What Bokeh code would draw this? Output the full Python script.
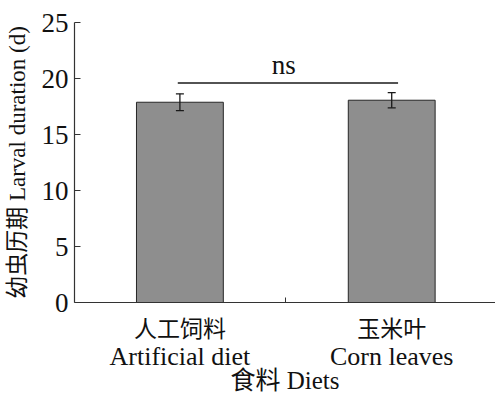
from bokeh.plotting import figure
from bokeh.models import Range1d, FixedTicker, ColumnDataSource, Whisker, TeeHead, LinearAxis
from bokeh.core.properties import value
from bokeh.embed import file_html
from bokeh.resources import INLINE

categories_zh = ["人工饲料", "玉米叶"]
categories_en = ["Artificial diet", "Corn leaves"]
positions = [1, 2]
means = [17.88, 18.06]
errors = [0.75, 0.68]
y_ticks = [0, 5, 10, 15, 20, 25]
sig_x = [0.99, 2.03]
sig_y = 19.6
sig_label = "ns"

FONT = "'Liberation Serif', 'Times New Roman', 'Noto Sans CJK SC'"

p = figure(frame_width=421, frame_height=280, output_backend="svg", toolbar_location=None,
           x_range=Range1d(0.5024, 2.49), y_range=Range1d(0, 25),
           min_border_left=74, min_border_top=22, min_border_right=0, min_border_bottom=0)
p.outline_line_color = None
p.xgrid.visible = False
p.ygrid.visible = False

p.vbar(x=positions, top=means, width=0.41, fill_color="#8e8e8e", line_color="#262626", line_width=1)

src = ColumnDataSource(dict(x=positions,
                            upper=[m + e for m, e in zip(means, errors)],
                            lower=[m - e for m, e in zip(means, errors)]))
w = Whisker(source=src, base="x", upper="upper", lower="lower", level="overlay",
            line_color="#1a1a1a", line_width=1.3,
            upper_head=TeeHead(size=8, line_color="#1a1a1a", line_width=1.3),
            lower_head=TeeHead(size=8, line_color="#1a1a1a", line_width=1.3))
p.add_layout(w)

p.line(x=sig_x, y=[sig_y, sig_y], line_color="#1a1a1a", line_width=1.3)
p.text(x=[sum(sig_x) / 2 - 0.02], y=[sig_y + 0.3], text=[sig_label], text_align="center",
       text_baseline="bottom", text_font=value(FONT), text_font_size="27px", text_color="#111111")

# y axis
ya = p.yaxis[0]
ya.ticker = FixedTicker(ticks=y_ticks)
ya.major_tick_in = 6
ya.major_tick_out = 0
ya.minor_tick_line_color = None
ya.axis_line_color = "#333333"
ya.major_tick_line_color = "#333333"
ya.axis_line_width = 1.2
ya.major_label_standoff = 6
ya.major_label_text_font = FONT
ya.major_label_text_font_size = "27px"
ya.major_label_text_color = "#111111"
ya.axis_label = "幼虫历期 Larval duration (d)"
ya.axis_label_text_font = FONT
ya.axis_label_text_font_size = "23px"
ya.axis_label_text_font_style = "normal"
ya.axis_label_text_color = "#111111"
ya.axis_label_standoff = 9

# x axis (Chinese line)
xa = p.xaxis[0]
xa.ticker = FixedTicker(ticks=positions, minor_ticks=[1.5])
xa.major_label_overrides = {pos: lab for pos, lab in zip(positions, categories_zh)}
xa.major_tick_line_color = None
xa.minor_tick_in = 5
xa.minor_tick_out = 0
xa.minor_tick_line_color = "#333333"
xa.axis_line_color = "#333333"
xa.axis_line_width = 1.2
xa.major_label_standoff = 8
xa.major_label_text_font = FONT
xa.major_label_text_font_size = "23px"
xa.major_label_text_color = "#111111"

# second x axis (English line + axis title)
xb = LinearAxis(ticker=FixedTicker(ticks=positions, minor_ticks=[]),
                major_label_overrides={pos: lab for pos, lab in zip(positions, categories_en)})
xb.axis_line_color = None
xb.major_tick_line_color = None
xb.minor_tick_line_color = None
xb.major_tick_in = 0
xb.major_tick_out = 0
xb.major_label_standoff = -3
xb.major_label_text_font = FONT
xb.major_label_text_font_size = "26px"
xb.major_label_text_color = "#111111"
xb.axis_label = "食料 Diets"
xb.axis_label_text_font = FONT
xb.axis_label_text_font_size = "25px"
xb.axis_label_text_font_style = "normal"
xb.axis_label_text_color = "#111111"
xb.axis_label_standoff = -7
p.add_layout(xb, "below")

open("out.html", "w").write(file_html(p, INLINE))
